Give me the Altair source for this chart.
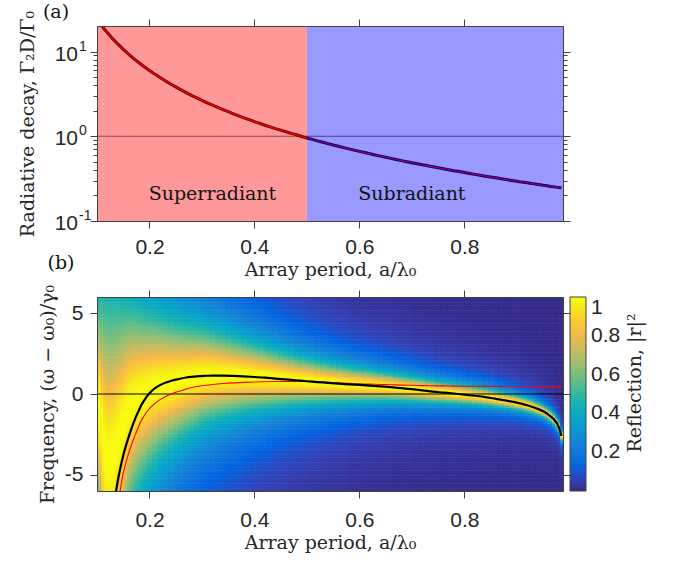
import altair as alt
import numpy as np
import pandas as pd

alt.data_transformers.disable_max_rows()

# ---------------- data ----------------
period = [0.100, 0.105, 0.110, 0.115, 0.120, 0.125, 0.130, 0.135, 0.140, 0.145,
          0.150, 0.155, 0.160, 0.165, 0.170, 0.175, 0.180, 0.185, 0.190, 0.195, 0.200,
          0.21, 0.22, 0.23, 0.24, 0.25, 0.26, 0.27, 0.28, 0.29, 0.30,
          0.31, 0.32, 0.33, 0.34, 0.35, 0.36, 0.37, 0.38, 0.39, 0.40,
          0.41, 0.42, 0.43, 0.44, 0.45, 0.46, 0.47, 0.48, 0.49, 0.50,
          0.51, 0.52, 0.53, 0.54, 0.55, 0.56, 0.57, 0.58, 0.59, 0.60,
          0.61, 0.62, 0.63, 0.64, 0.65, 0.66, 0.67, 0.68, 0.69, 0.70,
          0.71, 0.72, 0.73, 0.74, 0.75, 0.76, 0.77, 0.78, 0.79, 0.80,
          0.81, 0.82, 0.83, 0.84, 0.85, 0.86, 0.87, 0.88, 0.89, 0.90,
          0.905, 0.910, 0.915, 0.920, 0.925, 0.930, 0.935, 0.940, 0.945, 0.950,
          0.955, 0.960, 0.965, 0.970, 0.975, 0.980, 0.985]

decay_rate = [23.9, 21.7, 19.7, 18.1, 16.6, 15.3, 14.1, 13.1, 12.2, 11.4,
              10.6, 9.94, 9.33, 8.77, 8.26, 7.80, 7.37, 6.97, 6.61, 6.28, 5.97,
              5.41, 4.93, 4.51, 4.14, 3.82, 3.53, 3.27, 3.04, 2.84, 2.65,
              2.48, 2.33, 2.19, 2.06, 1.95, 1.84, 1.74, 1.65, 1.57, 1.49,
              1.42, 1.35, 1.29, 1.23, 1.18, 1.13, 1.08, 1.04, 0.994, 0.955,
              0.918, 0.883, 0.850, 0.819, 0.789, 0.761, 0.735, 0.710, 0.686, 0.663,
              0.642, 0.621, 0.601, 0.583, 0.565, 0.548, 0.532, 0.516, 0.501, 0.487,
              0.474, 0.460, 0.448, 0.436, 0.424, 0.413, 0.403, 0.392, 0.383, 0.373,
              0.364, 0.355, 0.347, 0.338, 0.330, 0.323, 0.315, 0.308, 0.301, 0.295,
              0.291, 0.288, 0.285, 0.282, 0.279, 0.276, 0.273, 0.270, 0.267, 0.264,
              0.262, 0.259, 0.256, 0.254, 0.251, 0.249, 0.246]

# centre and half-width of the bright reflection band, per column of the map
band_center = [-0.5, -1.2, -2.6, -3.6, -4.1, -4.1, -3.9, -3.4, -2.9, -2.4,
               -1.9, -1.4, -0.95, -0.7, -0.5, -0.35, -0.2, -0.1, 0.0, 0.1, 0.2,
               0.35, 0.48, 0.58, 0.66, 0.73, 0.80, 0.88, 0.96, 1.04, 1.11,
               1.13, 1.14, 1.14, 1.14, 1.13, 1.12, 1.11, 1.09, 1.07, 1.05,
               1.03, 1.01, 0.98, 0.95, 0.93, 0.90, 0.87, 0.84, 0.82, 0.79,
               0.77, 0.74, 0.72, 0.69, 0.67, 0.64, 0.62, 0.60, 0.58, 0.56,
               0.54, 0.52, 0.49, 0.47, 0.45, 0.42, 0.39, 0.36, 0.33, 0.30,
               0.27, 0.23, 0.19, 0.15, 0.12, 0.09, 0.06, 0.03, 0.0, -0.04,
               -0.07, -0.11, -0.15, -0.19, -0.24, -0.30, -0.35, -0.41, -0.47, -0.53,
               -0.57, -0.61, -0.655, -0.70, -0.75, -0.80, -0.86, -0.92, -0.99, -1.07,
               -1.16, -1.27, -1.40, -1.55, -1.75, -2.05, -2.6]

band_width = [5.5, 6.5, 8.0, 8.8, 9.2, 9.2, 9.0, 8.5, 8.0, 7.4,
              6.9, 6.4, 6.0, 5.7, 5.45, 5.25, 5.05, 4.85, 4.7, 4.55, 4.4,
              4.2, 3.95, 3.75, 3.57, 3.4, 3.24, 3.1, 2.97, 2.85, 2.73,
              2.63, 2.52, 2.43, 2.33, 2.24, 2.16, 2.07, 1.99, 1.91, 1.84,
              1.77, 1.71, 1.64, 1.57, 1.51, 1.45, 1.40, 1.35, 1.30, 1.25,
              1.21, 1.17, 1.12, 1.09, 1.05, 1.02, 0.98, 0.95, 0.92, 0.90,
              0.87, 0.84, 0.82, 0.79, 0.77, 0.75, 0.72, 0.70, 0.69, 0.67,
              0.65, 0.64, 0.62, 0.60, 0.58, 0.57, 0.56, 0.54, 0.53, 0.52,
              0.50, 0.49, 0.48, 0.47, 0.45, 0.44, 0.43, 0.41, 0.40, 0.39,
              0.38, 0.37, 0.37, 0.36, 0.36, 0.35, 0.34, 0.33, 0.32, 0.31,
              0.30, 0.30, 0.29, 0.28, 0.27, 0.26, 0.25]

shift_a = [0.130, 0.135, 0.140, 0.145, 0.150, 0.155, 0.160, 0.165, 0.170, 0.175,
           0.180, 0.185, 0.190, 0.195, 0.200, 0.21, 0.22, 0.23, 0.24, 0.25,
           0.26, 0.27, 0.28, 0.29, 0.30, 0.31, 0.32, 0.34, 0.36, 0.38,
           0.40, 0.42, 0.44, 0.46, 0.48, 0.50, 0.52, 0.54, 0.56, 0.58,
           0.60, 0.62, 0.64, 0.66, 0.68, 0.70, 0.72, 0.74, 0.76, 0.78,
           0.80, 0.82, 0.84, 0.86, 0.88, 0.90, 0.91, 0.92, 0.93, 0.94,
           0.95, 0.955, 0.96, 0.965, 0.97, 0.975, 0.98, 0.985]
shift_val = [-7.6, -6.3, -5.3, -4.5, -3.8, -3.2, -2.7, -2.2, -1.75, -1.35,
             -1.0, -0.65, -0.4, -0.15, 0.05, 0.35, 0.55, 0.70, 0.80, 0.89,
             0.96, 1.02, 1.06, 1.09, 1.11, 1.13, 1.14, 1.14, 1.12, 1.09,
             1.05, 1.01, 0.95, 0.90, 0.84, 0.79, 0.74, 0.69, 0.64, 0.60,
             0.56, 0.52, 0.47, 0.42, 0.36, 0.30, 0.23, 0.15, 0.09, 0.03,
             -0.04, -0.11, -0.19, -0.30, -0.41, -0.53, -0.61, -0.70, -0.80, -0.92,
             -1.07, -1.16, -1.27, -1.40, -1.55, -1.75, -2.05, -2.6]

approx_a = [0.140, 0.145, 0.150, 0.155, 0.160, 0.165, 0.170, 0.175, 0.180, 0.185,
            0.190, 0.195, 0.200, 0.21, 0.22, 0.23, 0.24, 0.25, 0.26, 0.27,
            0.28, 0.29, 0.30, 0.32, 0.34, 0.36, 0.38, 0.40, 0.42, 0.44,
            0.46, 0.48, 0.50, 0.52, 0.54, 0.56, 0.58, 0.60, 0.62, 0.64,
            0.66, 0.68, 0.70, 0.72, 0.74, 0.76, 0.78, 0.80, 0.85, 0.90,
            0.95, 0.985]
approx_val = [-7.2, -5.8, -4.9, -4.25, -3.7, -3.2, -2.75, -2.35, -1.95, -1.6,
              -1.35, -1.1, -0.9, -0.6, -0.35, -0.17, -0.02, 0.1, 0.2, 0.3,
              0.4, 0.46, 0.51, 0.59, 0.65, 0.69, 0.72, 0.74, 0.76, 0.77,
              0.78, 0.78, 0.77, 0.75, 0.72, 0.69, 0.66, 0.63, 0.61, 0.59,
              0.57, 0.55, 0.54, 0.52, 0.51, 0.50, 0.49, 0.48, 0.47, 0.46,
              0.45, 0.44]

region_name = ["Superradiant", "Subradiant"]
region_start = [0.1, 0.5]
region_end = [0.5, 0.988]
region_fill = ["#ff0000", "#0000ff"]
region_label_x = [0.32, 0.70]
region_label_y = [0.21, 0.21]

x_ticks = [0.2, 0.4, 0.6, 0.8]
log_ticks = [0.1, 0.2, 0.3, 0.4, 0.5, 0.6, 0.7, 0.8, 0.9,
             1, 2, 3, 4, 5, 6, 7, 8, 9, 10]
decade_values = [0.1, 1, 10]
decade_base = ["10", "10", "10"]
decade_exponent = ["-1", "0", "1"]
freq_ticks = [-5, 0, 5]
colorbar_ticks = [0.2, 0.4, 0.6, 0.8, 1]

parula_stops = [0, 0.063, 0.127, 0.19, 0.254, 0.317, 0.381, 0.444, 0.508,
                0.571, 0.635, 0.698, 0.762, 0.825, 0.889, 0.952, 1.0]
parula_colors = ["#352a87", "#3243ba", "#0363e1", "#0d75dc", "#1485d4", "#0998d1",
                 "#06a7c6", "#15b1b4", "#38b99e", "#65be86", "#92bf73", "#b7bd64",
                 "#d9ba56", "#f8bb44", "#fcce2e", "#f5eb18", "#f9fb0e"]

# ---------------- frames ----------------
X_MIN, X_MAX = 0.1, 0.988
Y_MIN, Y_MAX = -6.0, 6.0

df_decay = pd.DataFrame({"a": period, "g": decay_rate})
df_regions = pd.DataFrame({"name": region_name, "x0": region_start, "x1": region_end,
                           "y0": [0.1, 0.1], "y1": [20, 20], "fill": region_fill})
df_region_lbl = pd.DataFrame({"name": region_name, "x": region_label_x, "y": region_label_y})
df_decades = pd.DataFrame({"v": decade_values, "base": decade_base, "exp": decade_exponent})
df_one = pd.DataFrame({"v": [1.0]})
df_zero = pd.DataFrame({"v": [0.0]})
df_shift = pd.DataFrame({"a": shift_a, "v": shift_val})
df_approx = pd.DataFrame({"a": approx_a, "v": approx_val})

cols = np.array(period)
xe = np.concatenate([[X_MIN], (cols[1:] + cols[:-1]) / 2, [X_MAX]])
freq = np.round(np.linspace(Y_MIN, Y_MAX, 121), 3)
ye = np.concatenate([[Y_MIN], (freq[1:] + freq[:-1]) / 2, [Y_MAX]])
recs = []
for i in range(len(cols)):
    c, w = band_center[i], band_width[i]
    for j in range(len(freq)):
        r = w * w / ((freq[j] - c) ** 2 + w * w)
        recs.append((round(xe[i], 4), round(min(xe[i + 1] + 0.0012, X_MAX), 4),
                     round(ye[j], 3), round(min(ye[j + 1] + 0.03, Y_MAX), 3), round(r, 4)))
df_map = pd.DataFrame(recs, columns=["x0", "x1", "y0", "y1", "R"])

# ---------------- styling ----------------
W, H_TOP, H_BOT = 466, 195, 194
SANS = "Liberation Sans"
SERIF = "DejaVu Serif"
INK = "#262626"
AX = dict(domainColor="#404040", tickColor="#404040", labelColor=INK,
          titleColor=INK, grid=False, zindex=1, domainWidth=1, tickWidth=1,
          labelFont=SANS, labelFontSize=21, titleFont=SERIF, titleFontSize=19,
          titleFontWeight="normal")
MAJOR = "datum.value == 0.1 || datum.value == 1 || datum.value == 10"

xs = alt.Scale(domain=[X_MIN, X_MAX], nice=False, zero=False)
ys_log = alt.Scale(type="log", domain=[0.1, 20], nice=False)
ys_f = alt.Scale(domain=[Y_MIN, Y_MAX], nice=False, zero=False)

ax_x_bottom_top = alt.Axis(orient="bottom", values=x_ticks, format=".1f", tickSize=7,
                           labelPadding=8, title="Array period, a/λ₀",
                           titleX=W / 2, titleY=54, titleAlign="center",
                           titleBaseline="alphabetic", **AX)
ax_x_top = alt.Axis(orient="top", values=x_ticks, labels=False, tickSize=7, title=None, **AX)
ax_y_log_left = alt.Axis(orient="left", values=log_ticks,
                         tickSize=alt.condition(MAJOR, alt.value(7), alt.value(4)),
                         labels=False,
                         title="Radiative decay, Γ₂D/Γ₀", titleX=-64, titleY=H_TOP / 2,
                         titleAngle=270, titleAlign="center", titleBaseline="alphabetic", **AX)
ax_y_log_right = alt.Axis(orient="right", values=log_ticks, labels=False,
                          tickSize=alt.condition(MAJOR, alt.value(7), alt.value(4)), title=None, **AX)

# ---------------- top panel ----------------
base_top = alt.Chart(df_decay)
rule_one = alt.Chart(df_one).mark_rule(color="black", strokeWidth=1, opacity=0.6).encode(
    y=alt.Y("v:Q", scale=ys_log, axis=None))
curve_black = base_top.mark_line(color="black", strokeWidth=3, clip=True).encode(
    x=alt.X("a:Q", scale=xs, axis=None), y=alt.Y("g:Q", scale=ys_log, axis=None))
curve_red = base_top.mark_line(color="#ff0000", strokeWidth=1.2, clip=True).encode(
    x=alt.X("a:Q", scale=xs, axis=ax_x_top), y=alt.Y("g:Q", scale=ys_log, axis=ax_y_log_right))
patches = alt.Chart(df_regions).mark_rect(opacity=0.4).encode(
    x=alt.X("x0:Q", scale=xs, axis=ax_x_bottom_top), x2="x1:Q",
    y=alt.Y("y0:Q", scale=ys_log, axis=ax_y_log_left), y2="y1:Q",
    color=alt.Color("fill:N", scale=None))
region_text = alt.Chart(df_region_lbl).mark_text(font=SERIF, fontSize=19, color="#111111").encode(
    x=alt.X("x:Q", scale=xs, axis=None), y=alt.Y("y:Q", scale=ys_log, axis=None), text="name:N")
# decade labels 10^n of the logarithmic axis
dec_base = alt.Chart(df_decades).mark_text(font=SANS, fontSize=21, color=INK, align="right",
                                           baseline="alphabetic", dy=9).encode(
    y=alt.Y("v:Q", scale=ys_log, axis=None), x=alt.value(-19), text="base:N")
dec_exp = alt.Chart(df_decades).mark_text(font=SANS, fontSize=14, color=INK, align="left",
                                          baseline="alphabetic", dy=-1).encode(
    y=alt.Y("v:Q", scale=ys_log, axis=None), x=alt.value(-18), text="exp:N")
panel_a = alt.Chart(pd.DataFrame({"t": ["(a)"]})).mark_text(
    font=SERIF, fontSize=19, color="#111111", align="center", baseline="alphabetic").encode(
    text="t:N", x=alt.value(-41), y=alt.value(-8))
panel_b = alt.Chart(pd.DataFrame({"t": ["(b)"]})).mark_text(
    font=SERIF, fontSize=19, color="#111111", align="center", baseline="alphabetic").encode(
    text="t:N", x=alt.value(-36), y=alt.value(243))

top = alt.layer(rule_one, curve_black, curve_red, patches, region_text, dec_base, dec_exp,
                panel_a, panel_b).resolve_axis(
    x="independent", y="independent").properties(width=W, height=H_TOP)

# ---------------- bottom panel ----------------
ax_x_bottom = alt.Axis(orient="bottom", values=x_ticks, format=".1f", tickSize=7,
                       labelPadding=11, title="Array period, a/λ₀",
                       titleX=W / 2, titleY=57, titleAlign="center",
                       titleBaseline="alphabetic", **AX)
ax_y_f_left = alt.Axis(orient="left", values=freq_ticks, tickSize=7,
                       labelExpr="datum.value < 0 ? '-' + abs(datum.value) : '' + datum.value",
                       labelPadding=7, labelBaseline="middle",
                       title="Frequency, (ω − ω₀)/γ₀", titleX=-44, titleY=H_BOT / 2,
                       titleAngle=270, titleAlign="center", titleBaseline="alphabetic", **AX)
ax_x_top2 = alt.Axis(orient="top", values=x_ticks, labels=False, tickSize=7, title=None, **AX)
ax_y_right2 = alt.Axis(orient="right", values=freq_ticks, labels=False, tickSize=7, title=None, **AX)

parula = alt.Scale(domain=parula_stops, range=parula_colors, interpolate="rgb")
legend = alt.Legend(title=None, orient="none", legendX=473, legendY=0, direction="vertical",
                    gradientLength=H_BOT, gradientThickness=16, values=colorbar_ticks,
                    format=".1~f", labelFont=SANS, labelFontSize=21, labelColor=INK,
                    labelOffset=5, labelBaseline="middle", gradientStrokeColor="#404040",
                    gradientStrokeWidth=1, padding=0)

heat = alt.Chart(df_map).mark_rect(clip=True, strokeWidth=0).encode(
    x=alt.X("x0:Q", scale=xs, axis=ax_x_bottom), x2="x1:Q",
    y=alt.Y("y0:Q", scale=ys_f, axis=ax_y_f_left), y2="y1:Q",
    color=alt.Color("R:Q", scale=parula, legend=legend))
rule_zero = alt.Chart(df_zero).mark_rule(color="black", strokeWidth=1).encode(
    y=alt.Y("v:Q", scale=ys_f, axis=None))
line_red = alt.Chart(df_approx).mark_line(color="#ff0000", strokeWidth=1.1, clip=True,
                                          interpolate="monotone").encode(
    x=alt.X("a:Q", scale=xs, axis=None), y=alt.Y("v:Q", scale=ys_f, axis=None))
line_black = alt.Chart(df_shift).mark_line(color="black", strokeWidth=2.2, clip=True,
                                           interpolate="monotone").encode(
    x=alt.X("a:Q", scale=xs, axis=ax_x_top2), y=alt.Y("v:Q", scale=ys_f, axis=ax_y_right2))
cbar_title = alt.Chart(pd.DataFrame({"t": ["Reflection, |r|²"]})).mark_text(
    font=SERIF, fontSize=19, color=INK, align="center", baseline="alphabetic", angle=270).encode(
    text="t:N", x=alt.value(544), y=alt.value(86))

bottom = alt.layer(heat, rule_zero, line_red, line_black, cbar_title).resolve_axis(
    x="independent", y="independent").properties(width=W, height=H_BOT)

chart = alt.vconcat(top, bottom, spacing=76, bounds="flush").resolve_scale(
    x="independent", y="independent", color="independent").resolve_legend(
    color="independent").properties(
    padding={"left": 17, "top": 2, "right": 5, "bottom": 5}).configure_view(stroke=None).configure(
    background="white")

chart.save("out.html", embed_options={"renderer": "svg", "actions": False})
